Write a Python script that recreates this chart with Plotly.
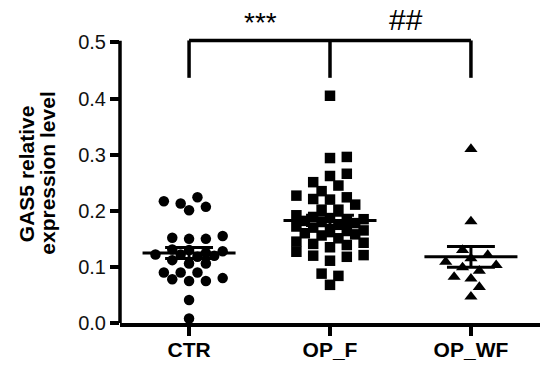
import numpy as np
import plotly.graph_objects as go

categories = ["CTR", "OP_F", "OP_WF"]
symbols = ["circle", "square", "triangle-up"]

ctr_values = [0.217, 0.207, 0.201, 0.213, 0.224,
              0.152, 0.150, 0.150, 0.155,
              0.131, 0.130, 0.128, 0.125, 0.122, 0.118, 0.122, 0.120,
              0.106, 0.106, 0.112,
              0.090, 0.090, 0.090,
              0.078, 0.075, 0.075, 0.080,
              0.041, 0.008]

opf_values = [0.405, 0.294, 0.296, 0.266, 0.262, 0.251, 0.245, 0.235, 0.227,
              0.221, 0.220, 0.224, 0.211, 0.202, 0.202,
              0.192, 0.189, 0.187, 0.185, 0.182, 0.180, 0.184, 0.178, 0.175,
              0.172, 0.170, 0.165, 0.162, 0.158, 0.160, 0.164, 0.156, 0.151,
              0.145, 0.139, 0.143, 0.141, 0.135, 0.127, 0.121, 0.120, 0.118,
              0.111, 0.088, 0.084, 0.068]

opwf_values = [0.310, 0.181, 0.130, 0.121, 0.115, 0.109, 0.099, 0.103,
               0.093, 0.082, 0.079, 0.064, 0.047]

groups = [ctr_values, opf_values, opwf_values]

y_ticks = [0.0, 0.1, 0.2, 0.3, 0.4, 0.5]
y_tick_labels = ["0.0", "0.1", "0.2", "0.3", "0.4", "0.5"]

y_title_lines = ["GAS5 relative", "expression level"]
sig_labels = ["***", "##"]

FONT = "Arial, Liberation Sans, Helvetica, sans-serif"

# approximate axis scale, used only by the swarm layout algorithm
PX_PER_Y = 561.0
PX_PER_X = 140.9


def swarm_offsets(vals, diam=10.0, step=8.4, nmax=4):
    n = len(vals)
    offs = [0.0] * n
    placed = []
    order = sorted(range(n), key=lambda i: vals[i])
    cands = [0.0]
    for k in range(1, nmax + 1):
        cands += [k * step, -k * step]
    for i in order:
        y = vals[i] * PX_PER_Y
        left = sum(1 for p in placed if p[0] < 0 and abs(p[1] - y) < diam)
        right = sum(1 for p in placed if p[0] > 0 and abs(p[1] - y) < diam)
        cs = sorted(cands, key=lambda c: (abs(c), (c > 0) if right > left else (c < 0)))
        chosen = None
        for c in cs:
            if all((c - px) ** 2 + (y - py) ** 2 >= diam * diam for px, py in placed):
                chosen = c
                break
        if chosen is None:
            best = -1
            for c in cs:
                md = min(((c - px) ** 2 + (y - py) ** 2) for px, py in placed)
                if md > best + 1e-9:
                    best = md
                    chosen = c
        offs[i] = chosen / PX_PER_X
        placed.append((chosen, y))
    return offs


fig = go.Figure()
sizes = [10.5, 10.5, 11.5]
for gi, (vals, sym, sz) in enumerate(zip(groups, symbols, sizes)):
    offs = swarm_offsets(vals, diam=10.5)
    fig.add_trace(go.Scatter(
        x=[gi + o for o in offs], y=vals, mode="markers",
        marker=dict(symbol=sym, size=sz, color="black", line=dict(width=0)),
        showlegend=False, hoverinfo="y", cliponaxis=False))

shapes = []
for gi, vals in enumerate(groups):
    a = np.array(vals)
    m = a.mean()
    sem = a.std(ddof=1) / np.sqrt(len(a))
    lw = 3
    shapes.append(dict(type="line", xref="x", yref="y", x0=gi - 0.33, x1=gi + 0.33,
                       y0=m, y1=m, line=dict(color="black", width=lw), layer="above"))
    for yy in (m - sem, m + sem):
        shapes.append(dict(type="line", xref="x", yref="y", x0=gi - 0.17, x1=gi + 0.17,
                           y0=yy, y1=yy, line=dict(color="black", width=lw), layer="above"))
    shapes.append(dict(type="line", xref="x", yref="y", x0=gi, x1=gi,
                       y0=m - sem, y1=m + sem, line=dict(color="black", width=lw), layer="above"))

# significance bracket
br_top = 0.5036
br_bot = 0.437
shapes.append(dict(type="line", xref="x", yref="y", x0=0, x1=2, y0=br_top, y1=br_top,
                   line=dict(color="black", width=3.5)))
for xi in (0, 1, 2):
    shapes.append(dict(type="line", xref="x", yref="y", x0=xi, x1=xi, y0=br_bot, y1=br_top,
                       line=dict(color="black", width=3.5)))

# y axis line from 0 to 0.5
shapes.append(dict(type="line", xref="paper", yref="y", x0=0, x1=0, y0=-0.003, y1=y_ticks[-1] + 0.003,
                   line=dict(color="black", width=3.5)))

annotations = [
    dict(x=0.51, y=0.535, xref="x", yref="y", text=sig_labels[0], showarrow=False,
         font=dict(family=FONT, size=28, color="black")),
    dict(x=1.54, y=0.541, xref="x", yref="y", text=sig_labels[1], showarrow=False,
         font=dict(family=FONT, size=30, color="black")),
    dict(x=-0.222, y=0.472, xref="paper", yref="paper", text="<b>%s</b>" % y_title_lines[0],
         textangle=-90, showarrow=False, xanchor="center", yanchor="middle",
         font=dict(family=FONT, size=21, color="black")),
    dict(x=-0.173, y=0.472, xref="paper", yref="paper", text="<b>%s</b>" % y_title_lines[1],
         textangle=-90, showarrow=False, xanchor="center", yanchor="middle",
         font=dict(family=FONT, size=21, color="black")),
]

fig.update_layout(
    width=550, height=367,
    margin=dict(l=120, r=10, t=6, b=44, autoexpand=False),
    paper_bgcolor="white", plot_bgcolor="white",
    shapes=shapes, annotations=annotations,
    font=dict(family=FONT, color="black"),
    xaxis=dict(
        range=[-0.49, 2.49], tickmode="array", tickvals=[0, 1, 2],
        ticktext=["<b>%s</b>" % c for c in categories],
        showline=True, linecolor="black", linewidth=3.5,
        ticks="outside", ticklen=9, tickwidth=3.5, tickcolor="black",
        ticklabelstandoff=-4, automargin=False,
        showgrid=False, zeroline=False,
        tickfont=dict(size=21, color="black", family=FONT),
    ),
    yaxis=dict(
        range=[0, 0.565], tickmode="array", tickvals=y_ticks, ticktext=y_tick_labels,
        showline=False, ticks="outside", ticklen=9, tickwidth=3.5, tickcolor="black",
        automargin=False,
        showgrid=False, zeroline=False,
        tickfont=dict(size=20, color="#111", family=FONT),
    ),
)

fig.write_html("out.html", config={"displayModeBar": False},
               post_script="document.body.style.margin='0';document.body.style.padding='0';")
